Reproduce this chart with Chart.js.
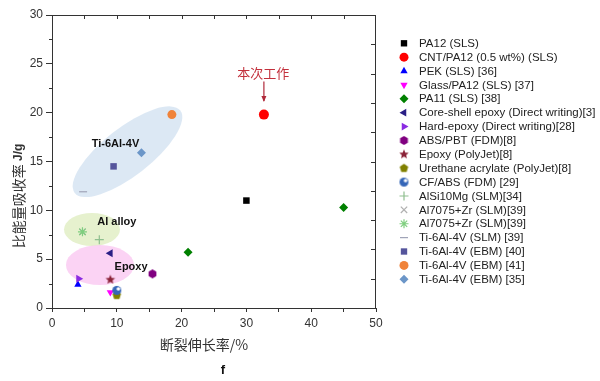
<!DOCTYPE html>
<html>
<head>
<meta charset="utf-8">
<script src="https://cdn.jsdelivr.net/npm/chart.js@4.4.1/dist/chart.umd.min.js"></script>
<style>
  html, body { margin: 0; padding: 0; background: #fff; }
  #wrap { width: 600px; height: 381px; }
</style>
</head>
<body>
<div id="wrap"><canvas id="chart" width="600" height="381"></canvas></div>
<script>
// --- data ---
var seriesNames = [
  'PA12 (SLS)',
  'CNT/PA12 (0.5 wt%) (SLS)',
  'PEK (SLS) [36]',
  'Glass/PA12 (SLS) [37]',
  'PA11 (SLS) [38]',
  'Core-shell epoxy (Direct writing)[3]',
  'Hard-epoxy (Direct writing)[28]',
  'ABS/PBT (FDM)[8]',
  'Epoxy (PolyJet)[8]',
  'Urethane acrylate (PolyJet)[8]',
  'CF/ABS (FDM) [29]',
  'AlSi10Mg (SLM)[34]',
  'Al7075+Zr (SLM)[39]',
  'Al7075+Zr (SLM)[39]',
  'Ti-6Al-4V (SLM) [39]',
  'Ti-6Al-4V (EBM) [40]',
  'Ti-6Al-4V (EBM) [41]',
  'Ti-6Al-4V (EBM) [35]'
];
// elongation at break, %
var elongation = [[30], [32.7], [4], [9], [21, 45], [9], [4.1], [15.5], [9], [10], [10],
  [7.3], [4.7], [4.7], [4.8], [9.5], [18.5], [13.8]];
// specific energy absorption, J/g
var energy = [[11], [19.8], [2.4], [1.6], [5.7, 10.3], [5.6], [3.0], [3.5], [2.9], [1.3], [1.8],
  [7.0], [7.8], [7.8], [11.9], [14.5], [19.8], [15.9]];

var xTickLabels = [0, 10, 20, 30, 40, 50];
var yTickLabels = [0, 5, 10, 15, 20, 25, 30];

var regionNames = ['Ti-6Al-4V', 'Al alloy', 'Epoxy'];

// --- styles ---
var font = '"Liberation Sans", Arial, sans-serif';

function shapeCanvas(kind, color, r) {
  var s = Math.ceil(r * 2 + 2);
  var c = document.createElement('canvas');
  c.width = s; c.height = s;
  var g = c.getContext('2d');
  var cx = s / 2, cy = s / 2, k, a;
  g.fillStyle = color;
  g.beginPath();
  if (kind === 'pentagon' || kind === 'hexagon') {
    var n = kind === 'pentagon' ? 5 : 6;
    for (k = 0; k < n; k++) {
      a = -Math.PI / 2 + k * 2 * Math.PI / n;
      g.lineTo(cx + Math.cos(a) * r, cy + Math.sin(a) * r);
    }
  } else if (kind === 'star5') {
    for (k = 0; k < 10; k++) {
      a = -Math.PI / 2 + k * Math.PI / 5;
      var rr = k % 2 ? r * 0.45 : r;
      g.lineTo(cx + Math.cos(a) * rr, cy + Math.sin(a) * rr);
    }
  } else {
    g.arc(cx, cy, r, 0, Math.PI * 2);
  }
  g.closePath();
  g.fill();
  if (kind === 'sphere') {
    g.fillStyle = '#ffffff';
    g.beginPath();
    g.arc(cx + r * 0.35, cy - r * 0.35, r * 0.4, 0, Math.PI * 2);
    g.fill();
  }
  return c;
}

var seriesColors = ['#000000', '#ff0000', '#0000ff', '#ff00ff', '#008000', '#2a1f85', '#8a2be2',
  '#800080', '#8b2238', '#808000', '#3566b8', '#8fbf8f', '#b0b0b0', '#7fcf7f', '#a0a4b8',
  '#55559c', '#f0833a', '#6b96c8'];
var seriesStyles = ['rect', 'circle', 'triangle', 'triangle', 'rectRot', 'triangle', 'triangle',
  shapeCanvas('hexagon', '#800080', 4.5), shapeCanvas('star5', '#8b2238', 5),
  shapeCanvas('pentagon', '#808000', 4.5), shapeCanvas('sphere', '#3566b8', 4.5),
  'cross', 'crossRot', 'star', 'line', 'rect', 'circle', 'rectRot'];
var seriesRotation = [0, 0, 0, 180, 0, 270, 90, 0, 0, 0, 0, 0, 0, 0, 0, 0, 0, 0];
var markerSize = [4.6, 5, 4.2, 4.2, 4.5, 4.6, 4.6, 4.5, 5, 4.5, 4.5, 4.5, 4.5, 4.5, 4, 4.6, 4.5, 4.5];

// shaded groups: centre in data units, radii in pixels
var regionShapes = [
  { cx: 11.65, cy: 16.0, rx: 67, ry: 24, angle: 38, fill: 'rgba(196,217,236,0.6)', lx: 9.8, ly: 16.8 },
  { cx: 6.17, cy: 8.04, rx: 28, ry: 16.5, angle: 0, fill: 'rgba(221,236,190,0.75)', lx: 10.0, ly: 8.84 },
  { cx: 7.4, cy: 4.4, rx: 34, ry: 20, angle: 0, fill: 'rgba(250,196,240,0.75)', lx: 12.2, ly: 4.17 }
];

var datasets = seriesNames.map(function(name, i) {
  return {
    label: name,
    data: elongation[i].map(function(x, j) { return { x: x, y: energy[i][j] }; }),
    pointStyle: seriesStyles[i],
    rotation: seriesRotation[i],
    radius: markerSize[i],
    backgroundColor: seriesColors[i],
    borderColor: seriesColors[i],
    borderWidth: typeof seriesStyles[i] === 'string' && /cross|star|line/.test(seriesStyles[i]) ? 1.2 : 0,
    order: seriesNames.length - i
  };
});

var decor = {
  id: 'decor',
  beforeDatasetsDraw: function(chart) {
    var ctx = chart.ctx, xs = chart.scales.x, ys = chart.scales.y;
    regionShapes.forEach(function(r) {
      ctx.save();
      ctx.beginPath();
      ctx.ellipse(xs.getPixelForValue(r.cx), ys.getPixelForValue(r.cy), r.rx, r.ry,
        -r.angle * Math.PI / 180, 0, Math.PI * 2);
      ctx.fillStyle = r.fill;
      ctx.fill();
      ctx.restore();
    });
  },
  afterDraw: function(chart) {
    var ctx = chart.ctx, xs = chart.scales.x, ys = chart.scales.y, a = chart.chartArea;
    var v, p;
    ctx.save();
    // frame and extra ticks
    ctx.strokeStyle = '#333';
    ctx.lineWidth = 1;
    ctx.beginPath();
    ctx.moveTo(a.left, a.top + 0.5); ctx.lineTo(a.right, a.top + 0.5);
    ctx.moveTo(a.right - 0.5, a.top); ctx.lineTo(a.right - 0.5, a.bottom);
    for (v = 5; v < 50; v += 5) {
      p = Math.round(xs.getPixelForValue(v)) + 0.5;
      ctx.moveTo(p, a.top); ctx.lineTo(p, a.top + 4);
    }
    for (v = 3; v < 30; v += 3) {
      p = Math.round(ys.getPixelForValue(v)) + 0.5;
      ctx.moveTo(a.right, p); ctx.lineTo(a.right - 5, p);
    }
    for (v = 2.5; v < 30; v += 5) {
      p = Math.round(ys.getPixelForValue(v)) + 0.5;
      ctx.moveTo(a.left, p); ctx.lineTo(a.left - 3, p);
    }
    ctx.stroke();

    // group labels
    ctx.fillStyle = '#111';
    ctx.font = 'bold 11px ' + font;
    ctx.textAlign = 'center';
    ctx.textBaseline = 'middle';
    regionShapes.forEach(function(r, i) {
      ctx.fillText(regionNames[i], xs.getPixelForValue(r.lx), ys.getPixelForValue(r.ly));
    });

    // "this work" note and arrow
    var ax = xs.getPixelForValue(32.7);
    ctx.fillStyle = '#c3303c';
    ctx.font = '13px "Noto Sans CJK SC", sans-serif';
    ctx.fillText('本次工作', xs.getPixelForValue(32.6), ys.getPixelForValue(24.1));
    ctx.strokeStyle = '#b02a3a';
    ctx.lineWidth = 1.2;
    ctx.beginPath();
    ctx.moveTo(ax, ys.getPixelForValue(23.2));
    ctx.lineTo(ax, ys.getPixelForValue(21.2));
    ctx.stroke();
    ctx.fillStyle = '#b02a3a';
    ctx.beginPath();
    var ay = ys.getPixelForValue(21.1);
    ctx.moveTo(ax, ay); ctx.lineTo(ax - 2.5, ay - 6); ctx.lineTo(ax + 2.5, ay - 6);
    ctx.closePath();
    ctx.fill();

    // axis titles
    ctx.fillStyle = '#333';
    ctx.font = '14px "Noto Sans CJK SC", sans-serif';
    ctx.textAlign = 'center';
    ctx.fillText('断裂伸长率/%', 204, 345);
    ctx.save();
    ctx.translate(19, 175);
    ctx.rotate(-Math.PI / 2);
    ctx.textAlign = 'right';
    ctx.fillText('比能量吸收率 ', 14, 0);
    ctx.textAlign = 'left';
    ctx.font = 'bold 12px ' + font;
    ctx.fillText('J/g', 14, 0);
    ctx.restore();
    ctx.fillStyle = '#111';
    ctx.font = 'bold 13px ' + font;
    ctx.fillText('f', 223, 370);

    // legend
    ctx.font = '11.5px ' + font;
    ctx.textAlign = 'left';
    chart.data.datasets.forEach(function(ds, i) {
      var y = 43.3 + i * 13.88;
      ctx.fillStyle = ds.backgroundColor;
      ctx.strokeStyle = ds.borderColor;
      ctx.lineWidth = ds.borderWidth || 1;
      Chart.helpers.drawPoint(ctx, {
        pointStyle: ds.pointStyle, rotation: ds.rotation,
        radius: Math.min(ds.radius, 4.5), borderWidth: ds.borderWidth
      }, 404, y);
      ctx.fillStyle = '#222';
      ctx.fillText(ds.label, 419, y + 0.5);
    });
    ctx.restore();
  }
};

new Chart(document.getElementById('chart'), {
  type: 'scatter',
  data: { datasets: datasets },
  options: {
    responsive: false,
    animation: false,
    devicePixelRatio: 1,
    layout: { padding: { top: 15, right: 224, left: 0, bottom: 0 } },
    plugins: { legend: { display: false }, tooltip: { enabled: false } },
    scales: {
      x: {
        type: 'linear', min: 0, max: 50,
        afterFit: function(s) { s.height = 73; },
        ticks: {
          stepSize: 5, autoSkip: false, maxRotation: 0, padding: 4, color: '#333',
          font: { family: font, size: 12 },
          callback: function(v) { return xTickLabels.indexOf(v) >= 0 ? v : ''; }
        },
        grid: { drawOnChartArea: false, drawTicks: true, tickLength: 4, color: '#333' },
        border: { color: '#333', width: 1 }
      },
      y: {
        type: 'linear', min: 0, max: 30,
        afterFit: function(s) { s.width = 52; },
        ticks: {
          stepSize: 5, padding: 3, color: '#333',
          font: { family: font, size: 12 },
          callback: function(v) { return yTickLabels.indexOf(v) >= 0 ? v : ''; }
        },
        grid: { drawOnChartArea: false, drawTicks: true, tickLength: 6, color: '#333' },
        border: { color: '#333', width: 1 }
      }
    }
  },
  plugins: [decor]
});
</script>
</body>
</html>
